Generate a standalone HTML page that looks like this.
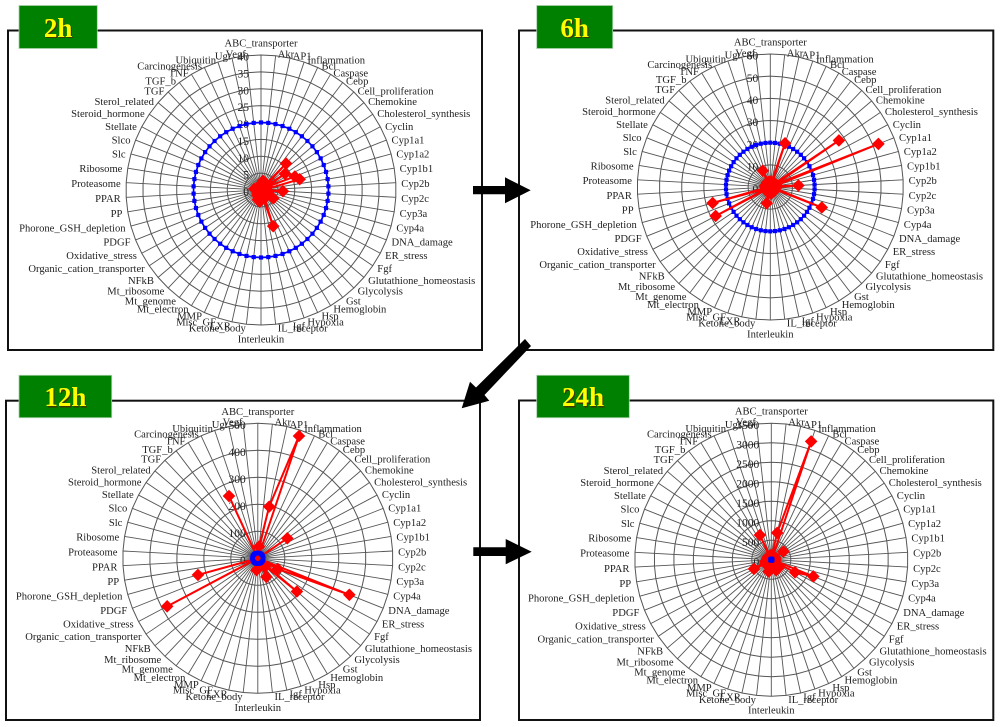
<!DOCTYPE html>
<html lang="en">
<head>
<meta charset="utf-8">
<title>Radar charts of pathway responses at 2h, 6h, 12h and 24h</title>
<style>
  html, body { margin: 0; padding: 0; background: #ffffff; }
  #figure { display: block; width: 1000px; height: 727px; }
  .cat { font-family: "Liberation Serif", serif; font-size: 10.6px; fill: #222222; }
  .tick { font-family: "Liberation Serif", serif; font-size: 11.5px; fill: #222222; }
  .badge-text { font-family: "Liberation Serif", serif; font-size: 27px; font-weight: bold; fill: #ffff00; }
  .badge-shadow { font-family: "Liberation Serif", serif; font-size: 27px; font-weight: bold; fill: #3a3a00; }
</style>
</head>
<body>
<svg id="figure" xmlns="http://www.w3.org/2000/svg" width="1000" height="727" viewBox="0 0 1000 727">
  <rect x="0" y="0" width="1000" height="727" fill="#ffffff"/>
  <g id="charts"></g>
  <g fill="#000000" stroke="none">
    <polygon points="473,186 505,186 505,177.3 530.7,190.3 505,203.3 505,194.3 473,194.3"/>
    <polygon points="525,339 531,346 484.5,395 489.3,400.7 461.7,408.3 470,381.7 476,387.5"/>
    <polygon points="473.3,547.3 505.7,547.3 505.7,539 531.7,551.7 505.7,564.3 505.7,556 473.3,556"/>
  </g>
</svg>
<script>
const categories = ["ABC_transporter","Akr","AP1","Inflammation","Bcl","Caspase","Cebp","Cell_proliferation","Chemokine","Cholesterol_synthesis","Cyclin","Cyp1a1","Cyp1a2","Cyp1b1","Cyp2b","Cyp2c","Cyp3a","Cyp4a","DNA_damage","ER_stress","Fgf","Glutathione_homeostasis","Glycolysis","Gst","Hemoglobin","Hsp","Hypoxia","Igf","IL_receptor","Interleukin","Ketone_body","LXR","Misc_GF","MMP","Mt_electron","Mt_genome","Mt_ribosome","NFkB","Organic_cation_transporter","Oxidative_stress","PDGF","Phorone_GSH_depletion","PP","PPAR","Proteasome","Ribosome","Slc","Slco","Stellate","Steroid_hormone","Sterol_related","TGF","TGF_b","TNF","Carcinogenesis","Ubiquitin","Ugt","Vegf"];

const ticks2h = [0,5,10,15,20,25,30,35,40];
const ticks6h = [0,10,20,30,40,50,60];
const ticks12h = [0,100,200,300,400,500];
const ticks24h = [0,500,1000,1500,2000,2500,3000,3500];

const values2h = [1.5,2,2.8,1.5,1.2,1.5,1.5,10.8,1.5,8.6,2,10.8,11.9,1.5,1.2,6.5,1.5,1.5,2,2,4.4,1.5,2,2.5,1.5,2,11.3,2,2,3,3.5,3,3,1.5,2,1.5,1.5,1,1,1.2,1,1,1,1.5,1.5,2,1,1,1,1,1,1,1,1,1,1,1,1.5];
const values6h = [2,2.5,2,20.8,2,1.8,2,2.5,2,37.4,2.5,52.5,3,2,12.7,2,2.5,2,25,2,1.8,2,2.5,2,1.5,2,2.5,2,3,2,2.5,7.5,2,1.8,2,2.5,2,1.5,2,27.9,2,27,2,1.8,2,2.5,2,1.5,2,2,1.8,2,2.5,2,8.1,2,2.5,2];
const values12h = [3,44,196,478,3,2,4,3,3,132,3,4,2,3,3,2,4,3,365,84,3,190,41,4,3,76,3,2,3,4,44,3,2,4,3,3,2,3,4,380,3,230,2,3,3,4,2,3,3,2,3,4,3,2,254,3,3,4];
const values24h = [120,90,705,3200,100,90,110,80,100,375,90,110,100,90,80,100,110,90,1160,688,100,230,120,285,100,298,110,90,120,100,140,312,120,100,90,110,100,150,180,503,160,150,120,100,90,110,100,80,90,100,110,90,100,80,697,100,90,110];

const threshold = [20,20,20,20,20,20,20,20,20,20,20,20,20,20,20,20,20,20,20,20,20,20,20,20,20,20,20,20,20,20,20,20,20,20,20,20,20,20,20,20,20,20,20,20,20,20,20,20,20,20,20,20,20,20,20,20,20,20];

const SVG_NS = "http://www.w3.org/2000/svg";
const root = document.getElementById("charts");

function make(tag, attrs, parent) {
  const el = document.createElementNS(SVG_NS, tag);
  for (const k in attrs) el.setAttribute(k, attrs[k]);
  parent.appendChild(el);
  return el;
}

function radarAngle(i) { return i * 2 * Math.PI / categories.length; }
function radialScale(value, max, radius) { return value / max * radius; }
function radarX(p, i, value) { return p.cx + radialScale(value, p.max, p.r) * Math.sin(radarAngle(i)); }
function radarY(p, i, value) { return p.cy - radialScale(value, p.max, p.r) * Math.cos(radarAngle(i)); }
function pathPoints(p, values) {
  return values.map(function (v, i) { return radarX(p, i, v).toFixed(2) + "," + radarY(p, i, v).toFixed(2); }).join(" ");
}

function drawGrid(p, g) {
  categories.forEach(function (c, i) {
    const spoke = make("line", { x1: p.cx, y1: p.cy, x2: radarX(p, i, p.max), y2: radarY(p, i, p.max), stroke: "#555555", "stroke-width": 0.9 }, g);
    
    
  });
  p.ticks.forEach(function (t) {
    if (t === 0) return;
    const ring = make("polygon", { points: pathPoints(p, categories.map(function () { return t; })), fill: "none", stroke: "#555555", "stroke-width": 1 }, g);
    
    
  });
}

function drawTicks(p, g) {
  p.ticks.forEach(function (t) {
    const y = p.cy - radialScale(t, p.max, p.r) + 2 + 3.6;
    const label = make("text", { x: p.cx - 12, y: y, "text-anchor": "end", class: "tick" }, g);
    label.textContent = String(t);
    
    
  });
}

function drawCategories(p, g) {
  const half = categories.length / 2;
  categories.forEach(function (c, i) {
    const s = Math.sin(radarAngle(i));
    const k = Math.cos(radarAngle(i));
    let x, y, anchor;
    if (i === 0 || i === half) {
      x = p.cx;
      y = p.cy + 1 - (p.r + 13) * k;
      anchor = "middle";
    } else if (i < half) {
      x = p.cx + (p.r + 5.5) * s + (Math.abs(k) > 0.9 ? 1.5 : 0);
      y = p.cy + 1 - (p.r + 3) * k;
      anchor = "start";
    } else {
      x = p.cx + (p.r + 5.5) * s;
      y = p.cy + 1 - (p.r + 3) * k;
      anchor = "end";
    }
    const label = make("text", { x: x.toFixed(1), y: (y + 3.5).toFixed(1), "text-anchor": anchor, class: "cat" }, g);
    label.textContent = c;
    
    
  });
}

function drawThreshold(p, g) {
  const line = make("polygon", { points: pathPoints(p, threshold), fill: "none", stroke: "#0000ff", "stroke-width": 1.7 }, g);
  
  
  threshold.forEach(function (v, i) {
    const mark = make("rect", { x: (radarX(p, i, v) - 2.1).toFixed(2), y: (radarY(p, i, v) - 2.1).toFixed(2), width: 4.2, height: 4.2, fill: "#0000ff" }, g);
    
    
  });
}

function drawValues(p, g) {
  const line = make("polygon", { points: pathPoints(p, p.values), fill: "none", stroke: "#ff0000", "stroke-width": 2 }, g);
  
  
  p.values.forEach(function (v, i) {
    const x = radarX(p, i, v);
    const y = radarY(p, i, v);
    const h = 6.3;
    const pts = [[x, y - h], [x + h, y], [x, y + h], [x - h, y]].map(function (q) { return q[0].toFixed(2) + "," + q[1].toFixed(2); }).join(" ");
    const mark = make("polygon", { points: pts, fill: "#ff0000" }, g);
    
    
  });
}

function drawBadge(p, g) {
  const box = make("rect", { x: p.bx, y: p.by, width: p.bw, height: p.bh, fill: "#008000", stroke: "#a9cfa9", "stroke-width": 0.8 }, g);
  
  
  const tx = p.bx + p.bw / 2;
  const ty = p.by + p.bh - 11.5;
  const shadow = make("text", { x: tx + 1.2, y: ty + 1.2, "text-anchor": "middle", class: "badge-shadow" }, g);
  shadow.textContent = p.title;
  
  
  const label = make("text", { x: tx, y: ty, "text-anchor": "middle", class: "badge-text" }, g);
  label.textContent = p.title;
  
  
}

function drawPanel(p) {
  p.max = p.ticks[p.ticks.length - 1];
  const g = make("g", {}, root);
  
  
  const frame = make("rect", { x: p.fx, y: p.fy, width: p.fw, height: p.fh, fill: "#ffffff", stroke: "#111111", "stroke-width": 2 }, g);
  
  
  drawGrid(p, g);
  drawTicks(p, g);
  drawCategories(p, g);
  if (p.thresholdOnTop) {
    drawValues(p, g);
    drawThreshold(p, g);
  } else {
    drawThreshold(p, g);
    drawValues(p, g);
  }
  drawBadge(p, g);
}

drawPanel({ title: "2h", ticks: ticks2h, values: values2h, cx: 261, cy: 190, r: 135, fx: 8, fy: 30.5, fw: 474, fh: 319.5, bx: 19, by: 5.5, bw: 78.3, bh: 43, thresholdOnTop: false });
drawPanel({ title: "6h", ticks: ticks6h, values: values6h, cx: 770.3, cy: 187, r: 133, fx: 519, fy: 30.5, fw: 474.3, fh: 319.5, bx: 536.7, by: 5.5, bw: 76, bh: 43, thresholdOnTop: false });
drawPanel({ title: "12h", ticks: ticks12h, values: values12h, cx: 257.8, cy: 558.3, r: 135, fx: 6, fy: 400.7, fw: 474, fh: 319.3, bx: 19, by: 375.3, bw: 92.7, bh: 42.4, thresholdOnTop: true });
drawPanel({ title: "24h", ticks: ticks24h, values: values24h, cx: 771.3, cy: 559.7, r: 136.5, fx: 519, fy: 400.5, fw: 474.3, fh: 319.5, bx: 536.7, by: 375.3, bw: 92.6, bh: 42.4, thresholdOnTop: true });
</script>
</body>
</html>
